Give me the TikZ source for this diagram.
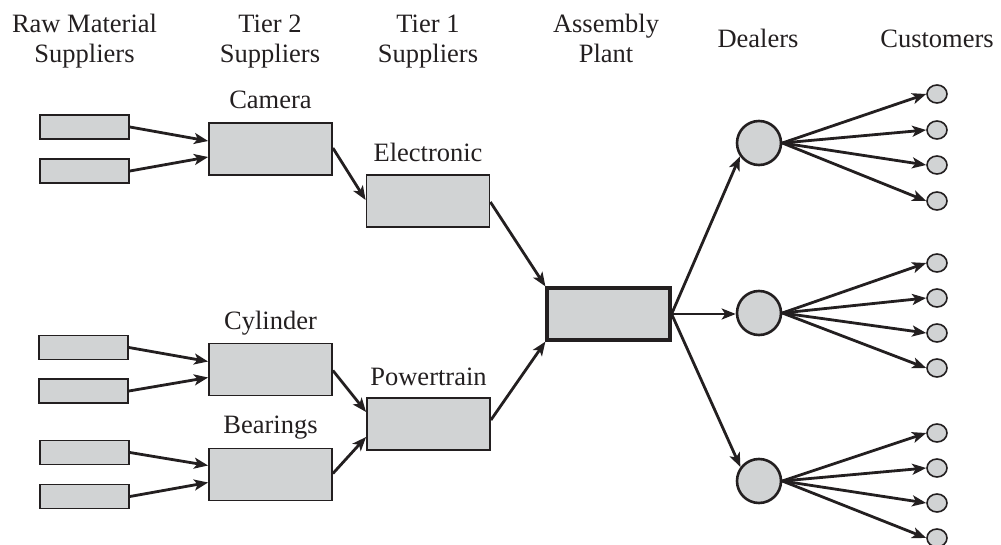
\documentclass[tikz,border=0pt]{standalone}
\usepackage{fontspec}
\setmainfont{Liberation Serif}
\usetikzlibrary{arrows.meta,shapes.geometric}
\definecolor{boxfill}{RGB}{209,211,212}
\definecolor{ink}{RGB}{35,31,32}
\begin{document}
\begin{tikzpicture}[x=1pt,y=-1pt,
  font=\fontsize{26.5}{30}\selectfont,
  box/.style={draw=ink,fill=boxfill,line width=1.8pt,inner sep=0pt,minimum width=#1},
  rawbox/.style={box=89pt,minimum height=24pt},
  midbox/.style={box=123pt,minimum height=52pt},
  asmbox/.style={box=123pt,minimum height=52pt,line width=3.2pt},
  dealer/.style={draw=ink,fill=boxfill,line width=2.6pt,circle,inner sep=0pt,minimum size=44pt},
  cust/.style={draw=ink,fill=boxfill,line width=1.6pt,ellipse,inner sep=0pt,minimum width=20pt,minimum height=18pt},
  lbl/.style={anchor=base,inner sep=0pt,text=ink},
  arr/.style={draw=ink,line width=2.8pt,-{Stealth[length=14pt,width=11pt,inset=3.5pt]}}]
\useasboundingbox (0,0) rectangle (1001,545);
% headers
\node[lbl] (h1a) at (84.5,33) {Raw Material};
\node[lbl] (h1b) at (84.5,63) {Suppliers};
\node[lbl] (h2a) at (270,33) {Tier 2};
\node[lbl] (h2b) at (270,63) {Suppliers};
\node[lbl] (h3a) at (428,33) {Tier 1};
\node[lbl] (h3b) at (428,63) {Suppliers};
\node[lbl] (h4a) at (606,33) {Assembly};
\node[lbl] (h4b) at (606,63) {Plant};
\node[lbl] (h5) at (758,48) {Dealers};
\node[lbl] (h6) at (937,48) {Customers};
% raw material boxes
\node[rawbox] (r1) at (84.5,127) {};
\node[rawbox] (r2) at (84.5,171) {};
\node[rawbox] (r3) at (83.5,347.5) {};
\node[rawbox] (r4) at (83.5,391) {};
\node[rawbox] (r5) at (84.5,452.5) {};
\node[rawbox] (r6) at (84.5,496.5) {};
% tier 2
\node[midbox] (cam) at (270.5,149) {};
\node[midbox] (cyl) at (270.5,369.5) {};
\node[midbox] (bea) at (270.5,474.5) {};
\node[lbl] (camL) at (270.5,109) {Camera};
\node[lbl] (cylL) at (270.5,329) {Cylinder};
\node[lbl] (beaL) at (270.5,433) {Bearings};
% tier 1
\node[midbox] (ele) at (428,201) {};
\node[midbox] (pow) at (428.5,424) {};
\node[lbl] (eleL) at (428,162) {Electronic};
\node[lbl] (powL) at (428.5,385) {Powertrain};
% assembly
\node[asmbox] (asm) at (608.5,314) {};
% dealers
\node[dealer] (d1) at (759,143) {};
\node[dealer] (d2) at (759,313) {};
\node[dealer] (d3) at (759,481) {};
% customers
\foreach \n/\y in {1/94,2/130,3/165,4/201,5/263,6/298,7/333,8/368,9/433,10/468,11/503,12/538}
  \node[cust] (c\n) at (937,\y) {};
% arrows raw -> tier 2
\draw[arr] (r1.east) -- ([yshift=8pt]cam.west);
\draw[arr] (r2.east) -- ([yshift=-8pt]cam.west);
\draw[arr] (r3.east) -- ([yshift=8pt]cyl.west);
\draw[arr] (r4.east) -- ([yshift=-8pt]cyl.west);
\draw[arr] (r5.east) -- ([yshift=9pt]bea.west);
\draw[arr] (r6.east) -- ([yshift=-8pt]bea.west);
% tier 2 -> tier 1
\draw[arr] ([yshift=1pt]cam.east) -- ([yshift=1pt]ele.west);
\draw[arr] ([yshift=-1pt]cyl.east) -- ([yshift=12pt]pow.west);
\draw[arr] ([yshift=1pt]bea.east) -- ([yshift=-13pt]pow.west);
% tier 1 -> assembly
\draw[arr] ([yshift=-1pt]ele.east) -- (asm.north west);
\draw[arr] ([yshift=4pt]pow.east) -- (asm.south west);
% assembly -> dealers
\draw[arr] (asm.east) -- (d1.215);
\draw[arr] (asm.east) -- (asm.east -| d2.west);
\draw[arr] (asm.east) -- (d3.143);
% dealers -> customers
\foreach \d/\a/\b/\c/\e in {d1/1/2/3/4,d2/5/6/7/8,d3/9/10/11/12}{
  \draw[arr] (\d.east) -- (c\a.west);
  \draw[arr] (\d.east) -- (c\b.west);
  \draw[arr] (\d.east) -- (c\c.west);
  \draw[arr] (\d.east) -- (c\e.west);
}
\end{tikzpicture}
\end{document}
